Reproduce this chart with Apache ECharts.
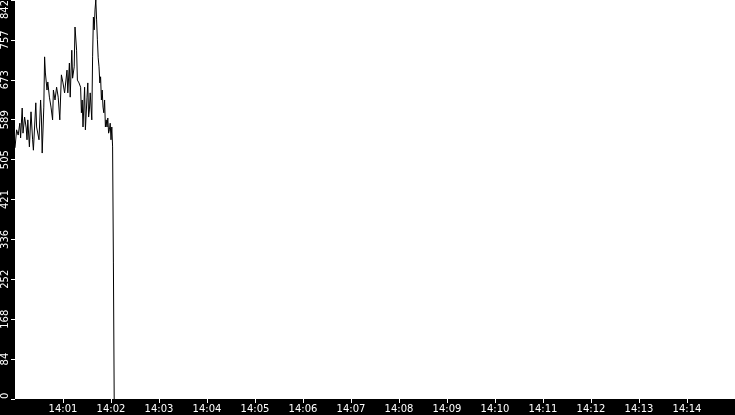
<!DOCTYPE html>
<html>
<head>
<meta charset="utf-8">
<script src="https://cdn.jsdelivr.net/npm/echarts@6/dist/echarts.min.js"></script>
<style>
  html, body { margin: 0; padding: 0; background: #000; }
  #chart { width: 735px; height: 415px; }
</style>
</head>
<body>
<div id="chart"></div>
<script>
// sample clock times (14:mm:ss) and readings
const times = [
  '14:00:00','14:00:02','14:00:04','14:00:06','14:00:07','14:00:09','14:00:10','14:00:12','14:00:14','14:00:15',
  '14:00:16','14:00:18','14:00:20','14:00:22','14:00:23','14:00:26','14:00:27','14:00:30','14:00:32','14:00:33',
  '14:00:34','14:00:36','14:00:37','14:00:38','14:00:40','14:00:41','14:00:43','14:00:45','14:00:47','14:00:48',
  '14:00:50','14:00:52','14:00:54','14:00:56','14:00:58','14:01:00','14:01:02','14:01:05','14:01:06','14:01:08',
  '14:01:09','14:01:11','14:01:12','14:01:14','14:01:15','14:01:17','14:01:18','14:01:20','14:01:22','14:01:23',
  '14:01:24','14:01:25','14:01:27','14:01:28','14:01:30','14:01:31','14:01:32','14:01:33','14:01:34','14:01:36',
  '14:01:37','14:01:38','14:01:39','14:01:40','14:01:41','14:01:42','14:01:43','14:01:44','14:01:45','14:01:46',
  '14:01:47','14:01:48','14:01:49','14:01:50','14:01:51','14:01:52','14:01:53','14:01:54','14:01:55','14:01:56',
  '14:01:57','14:01:58','14:01:59','14:02:00','14:02:01','14:02:02','14:02:03','14:02:04'
];
const values = [
  530,568,557,582,551,614,561,595,572,547,
  589,532,606,547,525,625,574,547,631,595,
  519,616,722,688,652,669,637,616,589,652,
  631,658,637,589,684,667,646,694,646,709,
  637,736,677,701,785,736,673,667,658,604,
  631,574,658,568,637,667,595,610,646,589,
  722,806,779,821,842,800,758,720,701,667,
  680,631,652,616,604,631,574,589,574,593,
  561,568,582,547,574,532,289,0
];
const yMax = 842;
const yStep = 84.2;
const xStart = '14:00:00';
const xEnd = '14:15:00';

function secs(s) {
  const p = s.split(':').map(Number);
  return (p[0] * 60 + p[1]) * 60 + p[2];
}
function clock(sec) {
  const h = Math.floor(sec / 3600);
  const m = Math.floor((sec % 3600) / 60);
  return h + ':' + String(m).padStart(2, '0');
}

const points = times.map((t, i) => [secs(t), values[i]]);

const chart = echarts.init(document.getElementById('chart'));
chart.setOption({
  animation: false,
  backgroundColor: '#000',
  grid: {
    left: 15, right: 0, top: 0, bottom: 16,
    outerBoundsMode: 'none',
    show: true, backgroundColor: '#fff', borderWidth: 0
  },
  xAxis: {
    type: 'value',
    min: secs(xStart),
    max: secs(xEnd),
    interval: 60,
    axisLine: { show: false },
    axisTick: { show: true, length: 4, lineStyle: { color: '#fff' } },
    splitLine: { show: false },
    axisLabel: {
      color: '#fff', fontSize: 10, fontFamily: 'DejaVu Sans', margin: 5,
      showMinLabel: false, showMaxLabel: false,
      formatter: v => clock(v)
    }
  },
  yAxis: {
    type: 'value',
    min: 0,
    max: yMax,
    interval: yStep,
    axisLine: { show: false },
    axisTick: { show: true, length: 4, lineStyle: { color: '#fff' } },
    splitLine: { show: false },
    axisLabel: {
      color: '#fff', fontSize: 10, fontFamily: 'DejaVu Sans', margin: 5,
      rotate: 90,
      alignMinLabel: 'left', alignMaxLabel: 'right',
      formatter: v => String(Math.floor(v + 1e-6))
    }
  },
  series: [{
    type: 'line',
    data: points,
    showSymbol: false,
    lineStyle: { color: '#000', width: 1 }
  }]
});
</script>
</body>
</html>
